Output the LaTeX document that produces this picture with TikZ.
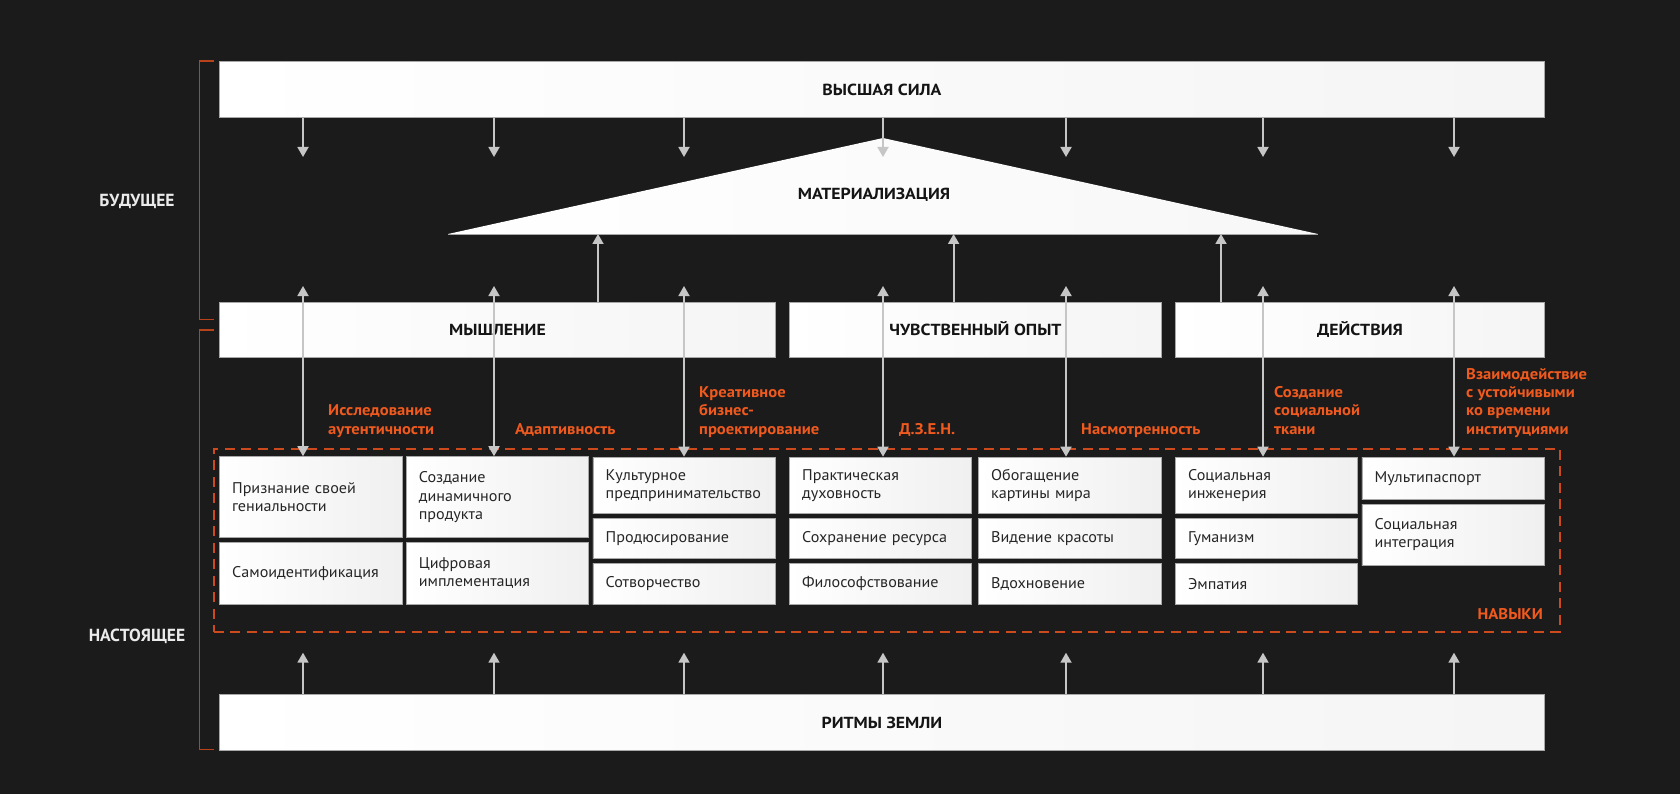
\documentclass[tikz,border=0pt]{standalone}
\usepackage{fontspec}
\setmainfont{PT Sans}[FakeStretch=1.04]
\newfontfamily\hdfont{PT Sans}[FakeStretch=1.11]
\newfontfamily\lblfont{PT Sans}[FakeStretch=1.07]
\newfontfamily\plainfont{PT Sans}
\usetikzlibrary{arrows.meta,calc}
\definecolor{bg}{HTML}{1B1B1B}
\definecolor{orng}{HTML}{F05A1E}
\definecolor{rust}{HTML}{B8431A}
\definecolor{dashc}{HTML}{CC4A1C}
\definecolor{arrg}{HTML}{C6C6C6}
\definecolor{bord}{HTML}{A8A8A8}
\begin{document}
\begin{tikzpicture}[x=1pt,y=-1pt,
  box/.style={draw=bord, line width=0.9pt, left color=white, right color=black!4, anchor=north west, inner sep=0pt, text height=11.3pt, text depth=0pt, font=\hdfont\bfseries\fontsize{16}{19}\selectfont, text=black!92},
  skill/.style={draw=bord, line width=0.9pt, left color=white, right color=black!6, anchor=north west, inner xsep=12.7pt, inner ysep=0pt, align=left, font=\fontsize{15.5}{18.3}\selectfont, text=black!85},
  lbl/.style={text=orng, font=\lblfont\bfseries\fontsize{15.5}{18.3}\selectfont, align=left, anchor=base west, inner sep=0pt},
  arr/.style={draw=arrg, line width=1.8pt, -{Triangle[width=11pt,length=10pt]}},
  biarr/.style={draw=arrg, line width=1.8pt, {Triangle[width=11pt,length=10pt]}-{Triangle[width=11pt,length=10pt]}},
  bracket/.style={draw=rust, line width=1.4pt},
  side/.style={text=black!8, font=\plainfont\bfseries\fontsize{17.5}{20}\selectfont, anchor=base, inner sep=0pt}
]
\useasboundingbox (0,0) rectangle (1680,794);
\fill[bg] (0,0) rectangle (1680,794);

% brackets and side labels
\draw[bracket] (214,61) -- (199.7,61) -- (199.7,319.3) -- (214,319.3);
\draw[bracket] (214,330) -- (199.7,330) -- (199.7,749.5) -- (214,749.5);
\node[side] (fut) at (137,206.7) {БУДУЩЕЕ};
\node[side] (pres) at (137,641) {НАСТОЯЩЕЕ};

% main boxes
\node[box, minimum width=1325pt, minimum height=56pt] (hp) at (219,61) {ВЫСШАЯ СИЛА};
\node[box, minimum width=556pt, minimum height=55pt] (think) at (219,301.7) {МЫШЛЕНИЕ};
\node[box, minimum width=372pt, minimum height=55pt] (feel) at (789,301.7) {ЧУВСТВЕННЫЙ ОПЫТ};
\node[box, minimum width=369pt, minimum height=55pt] (act) at (1175,301.7) {ДЕЙСТВИЯ};
\node[box, minimum width=1325pt, minimum height=55.5pt] (earth) at (219,694.2) {РИТМЫ ЗЕМЛИ};

% triangle
\coordinate (triA) at (883,138);
\coordinate (triL) at (448,234);
\coordinate (triR) at (1318,234);
\fill[left color=white, right color=black!3] (triL) -- (triA) -- (triR) -- cycle;
\draw[bord, line width=0.8pt] (triL) -- (triR);
\node[font=\hdfont\bfseries\fontsize{16}{19}\selectfont, text=black!92, anchor=base, inner sep=0pt] (mat) at (874,200) {МАТЕРИАЛИЗАЦИЯ};

% skills frame
\node[draw=dashc, line width=2pt, dash pattern=on 10pt off 6.5pt, minimum width=1346.3pt, minimum height=183pt, anchor=north west, inner sep=0pt] (frame) at (212.7,447.5) {};
\node[lbl, anchor=base east] (navyki) at (1543,619) {НАВЫКИ};

% skill boxes
\node[skill, text width=157.3pt, minimum height=81pt] (s11) at (219,456.2) {Признание своей\\гениальности};
\node[skill, text width=157.3pt, minimum height=62.3pt] (s12) at (219,541.7) {Самоидентификация};
\node[skill, text width=156.9pt, minimum height=81pt] (s21) at (405.7,456.2) {Создание\\динамичного\\продукта};
\node[skill, text width=156.9pt, minimum height=62.3pt] (s22) at (405.7,541.7) {Цифровая\\имплементация};
\node[skill, text width=157.1pt, minimum height=56.6pt] (s31) at (592.5,456.7) {Культурное\\предпринимательство};
\node[skill, text width=157.1pt, minimum height=40.3pt] (s32) at (592.5,518) {Продюсирование};
\node[skill, text width=157.1pt, minimum height=41pt] (s33) at (592.5,563) {Сотворчество};
\node[skill, text width=157pt, minimum height=56.6pt] (s41) at (789,456.7) {Практическая\\духовность};
\node[skill, text width=157pt, minimum height=40.3pt] (s42) at (789,518) {Сохранение ресурса};
\node[skill, text width=157pt, minimum height=41pt] (s43) at (789,563) {Философствование};
\node[skill, text width=157.6pt, minimum height=56.6pt] (s51) at (978,456.7) {Обогащение\\картины мира};
\node[skill, text width=157.6pt, minimum height=40.3pt] (s52) at (978,518) {Видение красоты};
\node[skill, text width=157.6pt, minimum height=41pt] (s53) at (978,563) {Вдохновение};
\node[skill, text width=156.6pt, minimum height=56.6pt] (s61) at (1175,456.7) {Социальная\\инженерия};
\node[skill, text width=156.6pt, minimum height=40.3pt] (s62) at (1175,518) {Гуманизм};
\node[skill, text width=156.6pt, minimum height=41pt] (s63) at (1175,563) {Эмпатия};
\node[skill, text width=157.1pt, minimum height=42.3pt] (s71) at (1361.5,456.7) {Мультипаспорт};
\node[skill, text width=157.1pt, minimum height=61pt] (s72) at (1361.5,503.7) {Социальная\\интеграция};

% orange labels
\node[lbl] (l1) at (328,434) {Исследование\\аутентичности};
\node[lbl] (l2) at (515,434) {Адаптивность};
\node[lbl] (l3) at (699,434) {Креативное\\бизнес-\\проектирование};
\node[lbl] (l4) at (899,434) {Д.З.Е.Н.};
\node[lbl] (l5) at (1081,434) {Насмотренность};
\node[lbl] (l6) at (1274,434) {Создание\\социальной\\ткани};
\node[lbl] (l7) at (1466,434) {Взаимодействие\\с устойчивыми\\ко времени\\институциями};

% arrow columns
\foreach \i/\x/\s in {1/303/s11, 2/494/s21, 3/684/s31, 4/883/s41, 5/1066/s51, 6/1263/s61, 7/1454/s71} {
  \coordinate (c\i) at (\x,0);
  \coordinate (d\i) at (\x,157);
  \coordinate (u\i) at (\x,286);
  \coordinate (b\i) at (\x,652.7);
  \draw[arr] (hp.south -| c\i) -- (d\i);
  \draw[biarr] (u\i) -- (\s.north -| c\i);
  \draw[arr] (earth.north -| c\i) -- (b\i);
}
% arrows into triangle
\coordinate (m1) at (598,0);
\coordinate (m2) at (953.6,0);
\coordinate (m3) at (1221,0);
\draw[arr] (think.north -| m1) -- (triL -| m1);
\draw[arr] (feel.north -| m2) -- (triL -| m2);
\draw[arr] (act.north -| m3) -- (triL -| m3);
\end{tikzpicture}
\end{document}
